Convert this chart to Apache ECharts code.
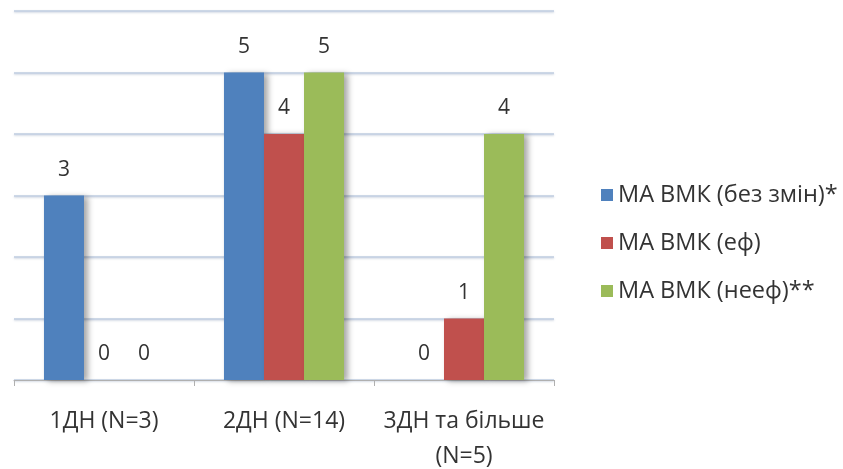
<!DOCTYPE html>
<html>
<head>
<meta charset="utf-8">
<script src="https://cdn.jsdelivr.net/npm/echarts@6/dist/echarts.min.js"></script>
<style>
  html, body { margin: 0; padding: 0; background: #fff; }
  #chart { width: 843px; height: 469px; }
</style>
</head>
<body>
<div id="chart"></div>
<script>
// Categories and series values
const categories = ['1ДН (N=3)', '2ДН (N=14)', '3ДН та більше\n(N=5)'];
const seriesNames = ['МА ВМК (без змін)*', 'МА ВМК (еф)', 'МА ВМК (нееф)**'];
const valuesNoChange = [3, 5, 0];
const valuesEff = [0, 4, 1];
const valuesIneff = [0, 5, 4];
const colors = ['#4f81bd', '#c0504d', '#9bbb59'];

const font = '"Open Sans", "DejaVu Sans", sans-serif';

function makeSeries(name, data, color) {
  return {
    name: name,
    type: 'bar',
    data: data,
    barGap: '0%',
    barCategoryGap: '33.3%',
    itemStyle: {
      color: color,
      shadowColor: 'rgba(0,0,0,0.35)',
      shadowBlur: 6,
      shadowOffsetX: 4,
      shadowOffsetY: 1
    },
    label: {
      show: true,
      position: 'top',
      distance: 15,
      color: '#333',
      fontFamily: font,
      fontSize: 21
    }
  };
}

const chart = echarts.init(document.getElementById('chart'), null, { renderer: 'canvas' });
chart.setOption({
  animation: false,
  backgroundColor: '#ffffff',
  grid: {
    left: 14, right: 289, top: 11, bottom: 89,
    containLabel: false,
    outerBoundsMode: 'none'
  },
  legend: {
    orient: 'vertical',
    left: 596,
    top: 177,
    itemWidth: 12,
    itemHeight: 12,
    itemGap: 22,
    icon: 'rect',
    textStyle: { fontFamily: font, fontSize: 23.5, color: '#333', lineHeight: 26 },
    data: seriesNames
  },
  xAxis: {
    type: 'category',
    data: categories,
    axisLine: { show: true, lineStyle: { color: '#b0b0b0', width: 1 } },
    axisTick: { show: true, length: 6, lineStyle: { color: '#b0b0b0' } },
    axisLabel: {
      interval: 0,
      hideOverlap: false,
      fontFamily: font,
      fontSize: 23,
      color: '#333',
      margin: 24,
      lineHeight: 35
    }
  },
  yAxis: {
    type: 'value',
    min: 0,
    max: 6,
    interval: 1,
    axisLine: { show: false },
    axisTick: { show: false },
    axisLabel: { show: false },
    splitLine: {
      show: true,
      lineStyle: {
        color: '#bfcde0',
        width: 1.5,
        shadowColor: 'rgba(120,140,170,0.4)',
        shadowBlur: 2,
        shadowOffsetY: 1
      }
    }
  },
  series: [
    makeSeries(seriesNames[0], valuesNoChange, colors[0]),
    makeSeries(seriesNames[1], valuesEff, colors[1]),
    makeSeries(seriesNames[2], valuesIneff, colors[2])
  ]
});
</script>
</body>
</html>
